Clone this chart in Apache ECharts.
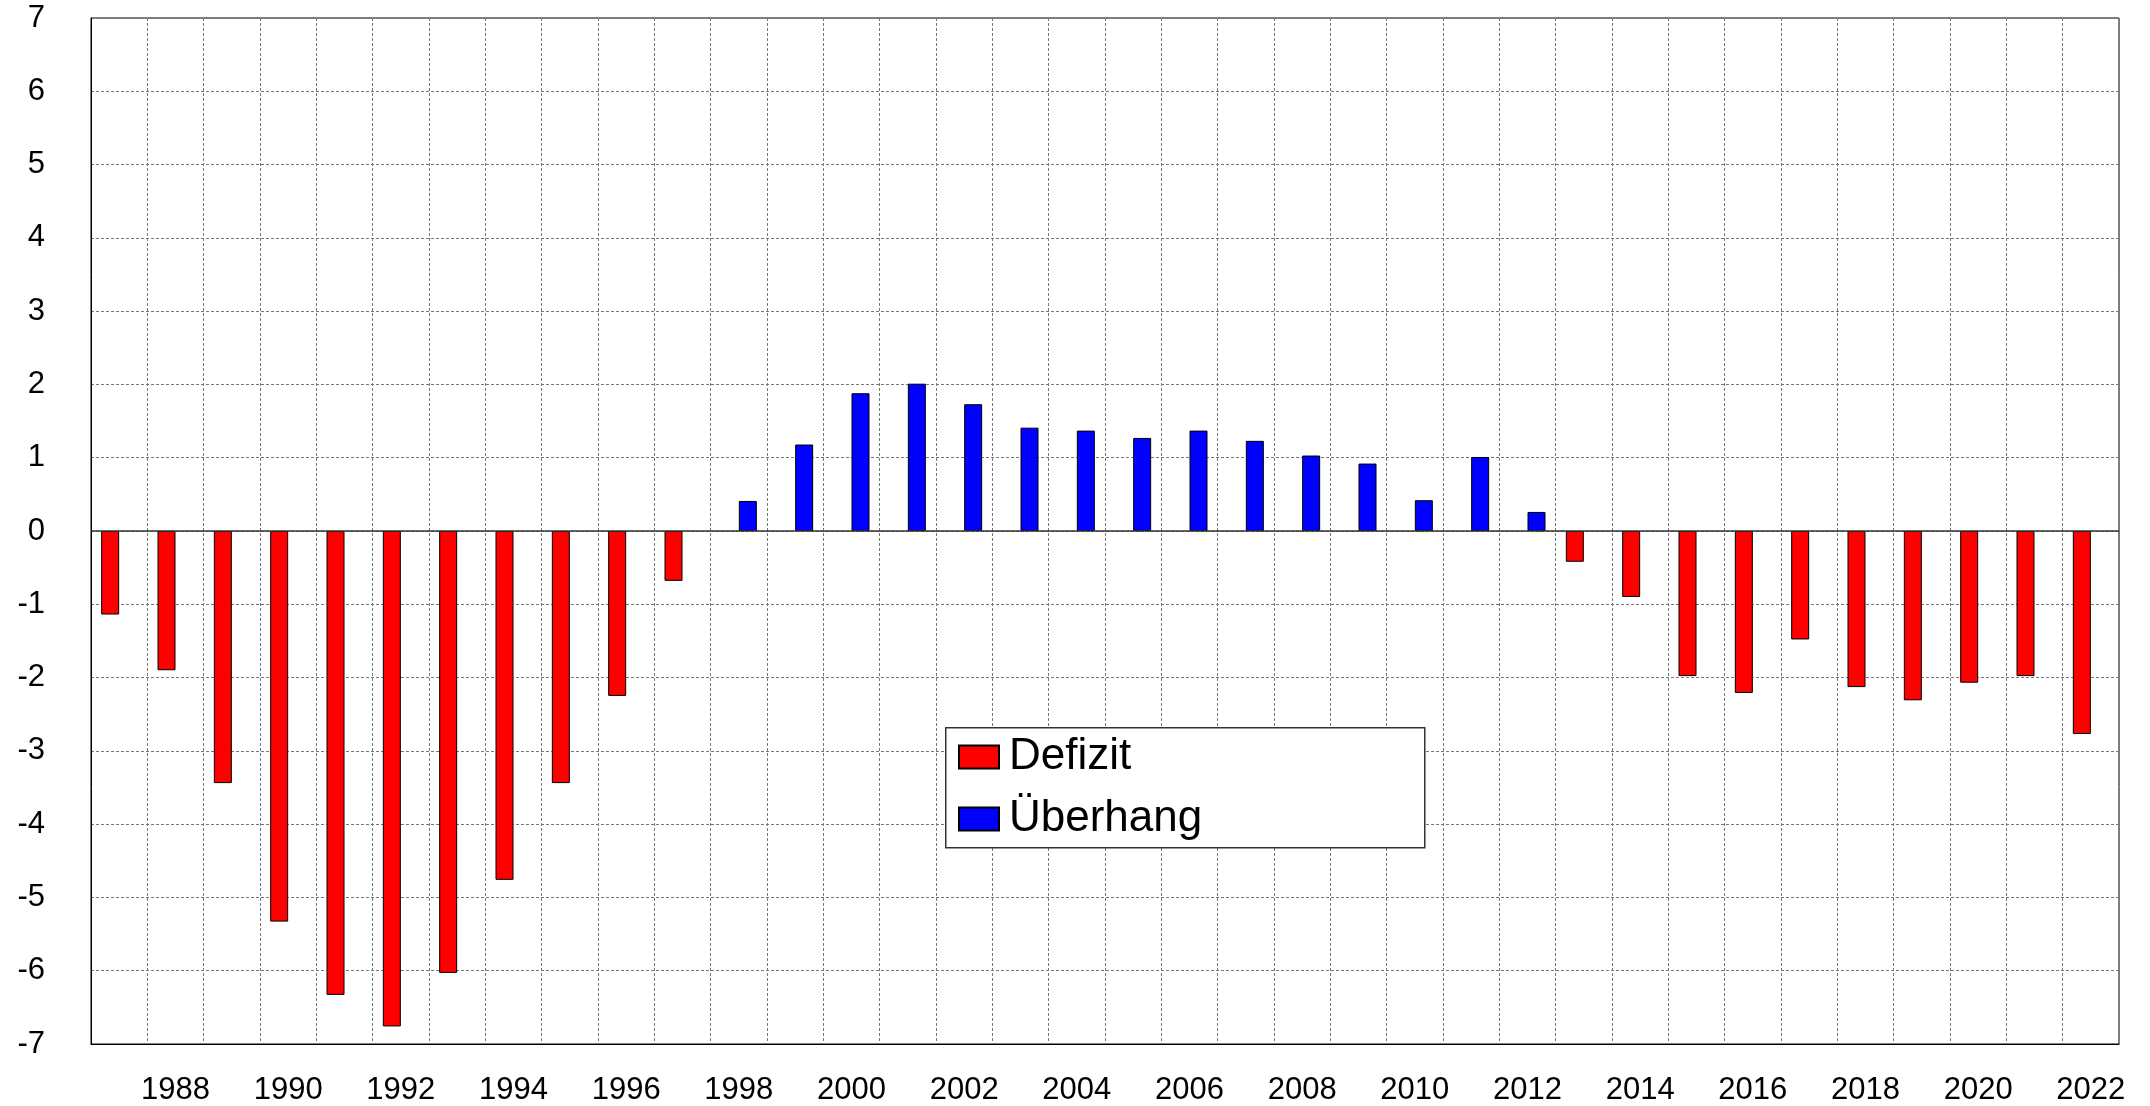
<!DOCTYPE html>
<html>
<head>
<meta charset="utf-8">
<script src="https://cdn.jsdelivr.net/npm/echarts@6/dist/echarts.min.js"></script>
<style>
  html, body { margin: 0; padding: 0; background: #fff; }
  #main { width: 2150px; height: 1106px; }
</style>
</head>
<body>
<div id="main"></div>
<script>
var years = [];
for (var y = 1987; y <= 2022; y++) years.push(String(y));

// Defizit (negative years), null where there is an Überhang
var defizit = [
  -1.14, -1.90, -3.44, -5.33, -6.33, -6.76, -6.03, -4.76, -3.44, -2.25, -0.68,
  null, null, null, null, null, null, null, null, null, null, null, null, null, null, null,
  -0.42, -0.90, -1.98, -2.21, -1.48, -2.13, -2.31, -2.07, -1.98, -2.77
];
var ueberhang = [
  null, null, null, null, null, null, null, null, null, null, null,
  0.41, 1.18, 1.88, 2.01, 1.73, 1.41, 1.37, 1.27, 1.37, 1.23, 1.03, 0.92, 0.42, 1.01, 0.26,
  null, null, null, null, null, null, null, null, null, null
];

var font = '"Liberation Sans", Arial, sans-serif';
var chart = echarts.init(document.getElementById('main'));

chart.setOption({
  animation: false,
  backgroundColor: '#fff',
  grid: {
    left: 91, right: 31, top: 18, bottom: 61,
    show: true, borderColor: '#000', borderWidth: 1, backgroundColor: 'transparent'
  },
  graphic: [{
    type: 'rect',
    left: 945, top: 727, z: 50,
    shape: { width: 479, height: 120 },
    style: { fill: '#fff', stroke: '#333', lineWidth: 1.5 }
  }],
  legend: {
    orient: 'vertical',
    left: 958, top: 735, z: 60,
    padding: 0,
    itemWidth: 40, itemHeight: 23, itemGap: 18,
    icon: 'rect',
    textStyle: { fontFamily: font, fontSize: 44, color: '#000', padding: [0, 0, 0, 5] },
    data: ['Defizit', 'Überhang']
  },
  xAxis: {
    type: 'category',
    data: years,
    boundaryGap: true,
    axisLine: { onZero: false, lineStyle: { color: '#000', width: 1 } },
    axisTick: { show: false },
    axisLabel: {
      interval: function (i) { return i % 2 === 1; },
      fontFamily: font, fontSize: 31, color: '#000', margin: 31
    },
    splitLine: { show: true, interval: 0, lineStyle: { color: '#777', type: [3, 2], width: 1 } }
  },
  yAxis: {
    type: 'value',
    min: -7, max: 7, interval: 1,
    axisLine: { show: true, lineStyle: { color: '#000' } },
    axisTick: { show: false },
    axisLabel: { fontFamily: font, fontSize: 31, color: '#000', margin: 46 },
    splitLine: { show: true, lineStyle: { color: '#777', type: [3, 2], width: 1 } }
  },
  series: [{
    name: 'Defizit',
    type: 'bar',
    data: defizit,
    barWidth: 18,
    barGap: '0%',
    itemStyle: { color: '#ff0000', borderColor: '#000', borderWidth: 1 },
    markLine: {
      silent: true,
      symbol: 'none',
      label: { show: false },
      lineStyle: { color: '#333', type: 'solid', width: 1.5 },
      data: [{ yAxis: 0 }]
    }
  }, {
    name: 'Überhang',
    type: 'bar',
    data: ueberhang,
    barWidth: 18,
    itemStyle: { color: '#0000ff', borderColor: '#000', borderWidth: 1 }
  }]
});
</script>
</body>
</html>
